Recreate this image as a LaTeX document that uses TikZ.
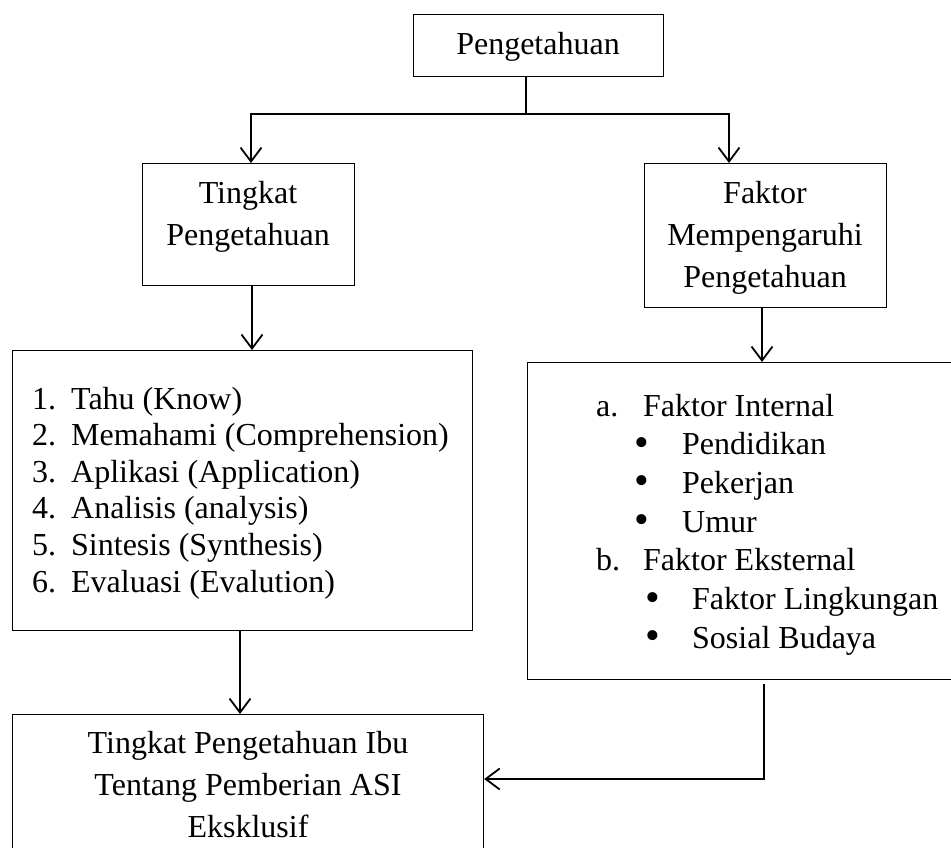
\documentclass[tikz,border=0pt]{standalone}
\usepackage{fontspec}
\setmainfont{Liberation Serif}
\usetikzlibrary{arrows.meta}
\newcommand{\bigdot}{{\fontsize{42}{38.7}\selectfont\raisebox{-1.5pt}{•}}}
\begin{document}
\begin{tikzpicture}[x=1pt,y=-1pt,
  box/.style={draw, line width=1.2pt, rectangle, inner sep=0pt, anchor=north west},
  conn/.style={line width=1.8pt},
  arr/.style={line width=1.8pt, -{Straight Barb[length=14pt,width=21pt,line width=1.8pt]}},
  txt/.style={inner sep=0pt, anchor=base, font=\fontsize{32}{42}\selectfont},
  lst/.style={inner sep=0pt, anchor=base west}]
\useasboundingbox (0,0) rectangle (951,847);
\clip (0,0) rectangle (951,847);
% boxes
\node[box, minimum width=250pt, minimum height=62pt] (top) at (413,14) {};
\node[box, minimum width=212pt, minimum height=122pt] (tk) at (142,163) {};
\node[box, minimum width=242pt, minimum height=144pt] (fk) at (644,163) {};
\node[box, minimum width=460pt, minimum height=280pt] (ll) at (12,350) {};
\node[box, minimum width=440pt, minimum height=317pt] (rl) at (527,362) {};
\node[box, minimum width=471pt, minimum height=150pt] (bt) at (12,714) {};
% texts
\node[txt] (t0) at (538,54) {Pengetahuan};
\node[txt] (t1) at (248,203) {\parbox[t]{200pt}{\centering Tingkat\\Pengetahuan}};
\node[txt] (t2) at (765,203) {\parbox[t]{236pt}{\centering Faktor\\Mempengaruhi\\Pengetahuan}};
\node[txt] (t3) at (248,753) {\parbox[t]{460pt}{\centering Tingkat Pengetahuan Ibu\\Tentang Pemberian ASI\\Eksklusif}};
\node[lst, font=\fontsize{32}{36.6}\selectfont] (t4) at (32,409) {\parbox[t]{438pt}{%
\makebox[39pt][l]{1.}Tahu (Know)\\
\makebox[39pt][l]{2.}Memahami (Comprehension)\\
\makebox[39pt][l]{3.}Aplikasi (Application)\\
\makebox[39pt][l]{4.}Analisis (analysis)\\
\makebox[39pt][l]{5.}Sintesis (Synthesis)\\
\makebox[39pt][l]{6.}Evaluasi (Evalution)}};
\node[lst, font=\fontsize{32}{38.7}\selectfont] (t5) at (596,416) {\parbox[t]{350pt}{%
\makebox[47pt][l]{a.}Faktor Internal\\
\hspace*{38pt}\makebox[48pt][l]{\bigdot}Pendidikan\\
\hspace*{38pt}\makebox[48pt][l]{\bigdot}Pekerjan\\
\hspace*{38pt}\makebox[48pt][l]{\bigdot}Umur\\
\makebox[47pt][l]{b.}Faktor Eksternal\\
\hspace*{49pt}\makebox[47pt][l]{\bigdot}Faktor Lingkungan\\
\hspace*{49pt}\makebox[47pt][l]{\bigdot}Sosial Budaya}};
% connectors
\coordinate (j) at (526,114);
\coordinate (lx) at (251,0);
\coordinate (rx) at (729,0);
\coordinate (c1) at (252,0);
\coordinate (c2) at (762,0);
\coordinate (c3) at (240,0);
\coordinate (c4) at (764,0);
\coordinate (c5) at (0,779);
\draw[conn] (top.south -| j) -- (j);
\draw[arr] (j) -| (tk.north -| lx);
\draw[arr] (j) -| (fk.north -| rx);
\draw[arr] (tk.south -| c1) -- (ll.north -| c1);
\draw[arr] (fk.south -| c2) -- (rl.north -| c2);
\draw[arr] (ll.south -| c3) -- (bt.north -| c3);
\draw[arr] ([yshift=-4pt]rl.south -| c4) |- (bt.east |- c5);
\end{tikzpicture}
\end{document}
